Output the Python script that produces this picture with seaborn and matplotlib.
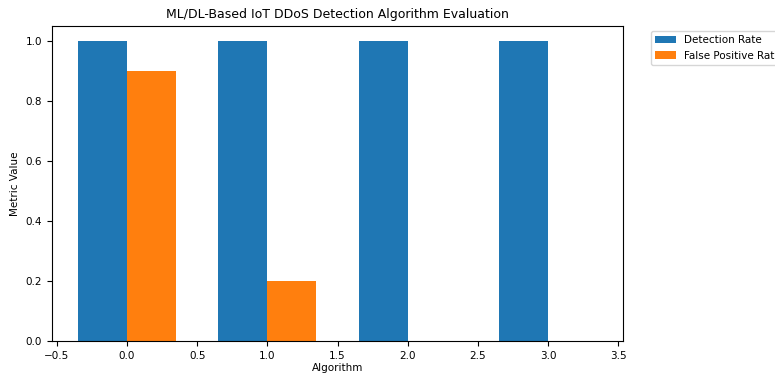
import matplotlib
matplotlib.use("Agg")
import matplotlib.pyplot as plt
import seaborn as sns
import pandas as pd

algorithms = [0, 1, 2, 3]
detection_rate = [1.0, 1.0, 1.0, 1.0]
false_positive_rate = [0.9, 0.2, 0.0, 0.0]
metric_names = ["Detection Rate", "False Positive Rate"]

df = pd.DataFrame({
    "Algorithm": algorithms * 2,
    "Value": detection_rate + false_positive_rate,
    "Metric": [metric_names[0]] * 4 + [metric_names[1]] * 4,
})

plt.rcParams["font.size"] = 7.5
fig = plt.figure(figsize=(7.75, 3.76), dpi=100)
ax = fig.add_axes([0.067, 0.092, 0.737, 0.839])

sns.barplot(data=df, x="Algorithm", y="Value", hue="Metric", native_scale=True,
            width=0.7, errorbar=None, palette=["#1f77b4", "#ff7f0e"], ax=ax,
            saturation=1)

ax.set_xlim(-0.535, 3.535)
ax.set_ylim(0, 1.05)
ax.set_xticks([-0.5, 0, 0.5, 1, 1.5, 2, 2.5, 3, 3.5])
ax.set_title("ML/DL-Based IoT DDoS Detection Algorithm Evaluation", fontsize=9)
ax.set_xlabel("Algorithm", labelpad=1.5)
ax.set_ylabel("Metric Value")
handles, labels = ax.get_legend_handles_labels()
ax.legend(handles, labels, bbox_to_anchor=(1.04, 1), loc="upper left")
fig.savefig("out.png", dpi=100)
